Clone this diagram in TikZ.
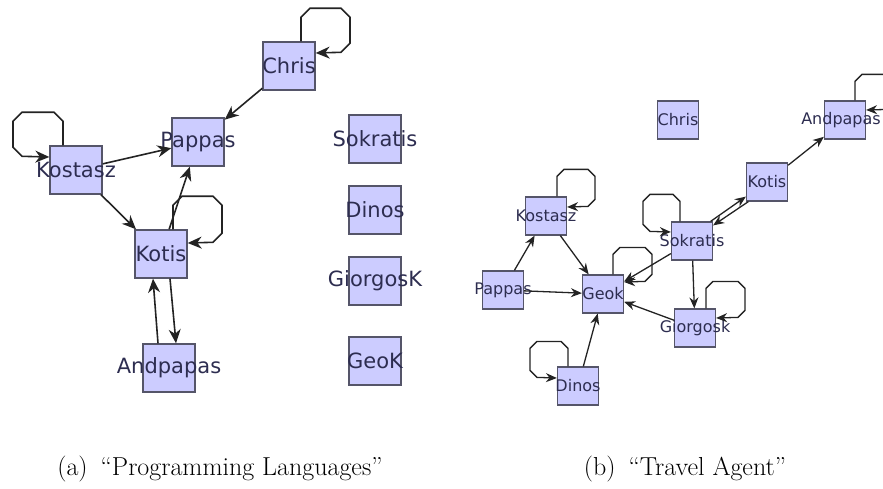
\documentclass[tikz,border=0pt]{standalone}
\usepackage{fontspec}
\newfontfamily\graphfont{DejaVu Sans}
\usetikzlibrary{arrows.meta}

\definecolor{boxfill}{RGB}{204,204,255}
\definecolor{boxline}{RGB}{85,85,105}
\definecolor{nametext}{RGB}{45,45,80}
\definecolor{edgeline}{RGB}{35,35,35}

\tikzset{
  vertA/.style={draw=boxline, fill=boxfill, line width=1.4pt, inner sep=0pt,
    minimum width=52pt, minimum height=48pt,
    label={[text=nametext, font=\graphfont\fontsize{21}{25}\selectfont]center:#1}},
  vertB/.style={draw=boxline, fill=boxfill, line width=1.2pt, inner sep=0pt,
    minimum width=41pt, minimum height=38pt,
    label={[text=nametext, font=\graphfont\fontsize{16}{19}\selectfont]center:#1}},
  edgeA/.style={draw=edgeline, line width=1.6pt, -{Stealth[length=14pt,width=12pt]}},
  edgeB/.style={draw=edgeline, line width=1.3pt, -{Stealth[length=11pt,width=9pt]}},
  caption/.style={font=\fontsize{26}{31}\selectfont}
}

\begin{document}
\begin{tikzpicture}[x=1pt, y=-1pt]
\useasboundingbox (0,0) rectangle (883,489);
\clip (0,0) rectangle (883,489);

% --- (a) Programming Languages ---
\node[vertA=Chris]    (aChris)    at (289,66)  {};
\node[vertA=Pappas]   (aPappas)   at (198,142) {};
\node[vertA=Kostasz]  (aKostasz)  at (76,170)  {};
\node[vertA=Kotis]    (aKotis)    at (161,254) {};
\node[vertA=Andpapas] (aAndpapas) at (169,368) {};
\node[vertA=Sokratis] (aSokratis) at (375,139) {};
\node[vertA=Dinos]    (aDinos)    at (375,210) {};
\node[vertA=GiorgosK] (aGiorgosK) at (375,281) {};
\node[vertA=GeoK]     (aGeoK)     at (375,361) {};

\draw[edgeA] (aChris) -- (aPappas);
\draw[edgeA] (aKostasz) -- (aPappas);
\draw[edgeA] (aKostasz) -- (aKotis);
\draw[edgeA] (aKotis) -- (aPappas);
\draw[edgeA] ([xshift=-11pt]aAndpapas.north) -- ([xshift=-8pt]aKotis.south);
\draw[edgeA] ([xshift=9pt]aKotis.south) -- ([xshift=7pt]aAndpapas.north);

% self loops opening to the right
\foreach \n/\dx/\h/\w/\u in {aChris/12/33/35/13, aKotis/12/33/35/11}{
  \draw[edgeA] ([xshift=\dx pt]\n.north) -- ++(0,-\h+9) -- ++(9,-9)
    -- ++(26+\w-\dx-18,0) -- ++(9,9) -- ++(0,24+\h-\u-18)
    -- ++(-9,9) -- ([yshift=\u pt]\n.east);
}
% self loop opening to the left
\foreach \n/\dx/\h/\w/\u in {aKostasz/13/33/37/13}{
  \draw[edgeA] ([xshift=-\dx pt]\n.north) -- ++(0,-\h+9) -- ++(-9,-9)
    -- ++(-26-\w+\dx+18,0) -- ++(-9,9) -- ++(0,24+\h-\u-18)
    -- ++(9,9) -- ([yshift=\u pt]\n.west);
}

% --- (b) Travel Agent ---
\node[vertB=Chris]    (bChris)    at (678,120) {};
\node[vertB, label={[text=nametext, font=\graphfont\fontsize{16}{19}\selectfont, xshift=-4pt]center:Andpapas}]
                      (bAndpapas) at (845,120) {};
\node[vertB=Kotis]    (bKotis)    at (767,182) {};
\node[vertB=Kostasz]  (bKostasz)  at (546,216) {};
\node[vertB=Sokratis] (bSokratis) at (692,241) {};
\node[vertB=Pappas]   (bPappas)   at (503,290) {};
\node[vertB=Geok]     (bGeok)     at (603,294) {};
\node[vertB=Giorgosk] (bGiorgosk) at (695,328) {};
\node[vertB=Dinos]    (bDinos)    at (578,386) {};

\draw[edgeB] (bPappas) -- (bKostasz);
\draw[edgeB] (bPappas) -- (bGeok);
\draw[edgeB] (bKostasz) -- (bGeok);
\draw[edgeB] (bSokratis) -- (bGeok);
\draw[edgeB] ([xshift=-2.5pt]bSokratis.north east) -- ([yshift=5pt]bKotis.south west);
\draw[edgeB] ([xshift=2.5pt]bKotis.south west) -- ([yshift=-4pt]bSokratis.north east);
\draw[edgeB] (bKotis) -- (bAndpapas);
\draw[edgeB] (bSokratis) -- (bGiorgosk);
\draw[edgeB] (bGiorgosk) -- (bGeok);
\draw[edgeB] (bDinos) -- (bGeok);

% self loops opening to the right
\foreach \n/\dx/\h/\w/\u in {bAndpapas/10/26/30/10, bKostasz/11/27/28.5/9,
    bGeok/10/27/28.5/12, bGiorgosk/11/27/29.5/10}{
  \draw[edgeB] ([xshift=\dx pt]\n.north) -- ++(0,-\h+7) -- ++(7,-7)
    -- ++(20.5+\w-\dx-14,0) -- ++(7,7) -- ++(0,19+\h-\u-14)
    -- ++(-7,7) -- ([yshift=\u pt]\n.east);
}
% self loops opening to the left
\foreach \n/\dx/\h/\w/\u in {bSokratis/12/27/28.5/9, bDinos/10/25/27.5/8}{
  \draw[edgeB] ([xshift=-\dx pt]\n.north) -- ++(0,-\h+7) -- ++(-7,-7)
    -- ++(-20.5-\w+\dx+14,0) -- ++(-7,7) -- ++(0,19+\h-\u-14)
    -- ++(7,7) -- ([yshift=\u pt]\n.west);
}

% --- captions ---
\node[caption] (capA) at (220,469) {(a)\enspace``Programming Languages''};
\node[caption] (capB) at (685,469) {(b)\enspace``Travel Agent''};

\end{tikzpicture}
\end{document}
